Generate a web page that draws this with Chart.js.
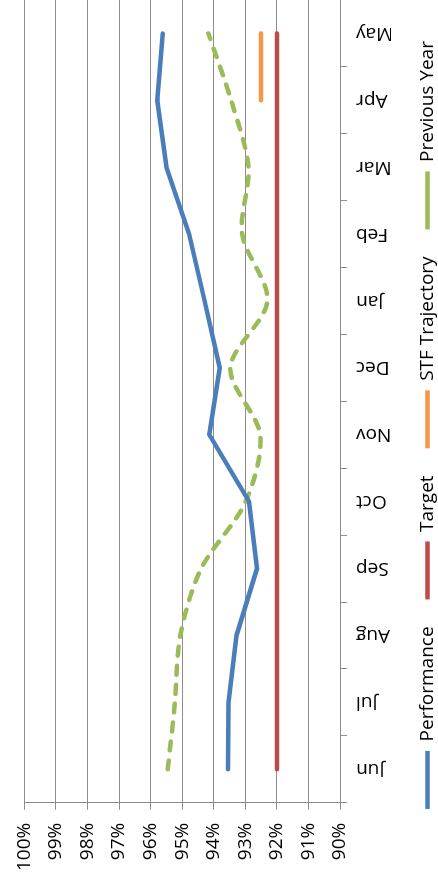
<!DOCTYPE html>
<html>
<head>
<meta charset="utf-8">
<title>Performance vs Target</title>
<script src="https://cdn.jsdelivr.net/npm/chart.js@4/dist/chart.umd.min.js"></script>
<style>
  html, body { margin: 0; padding: 0; background: #ffffff; overflow: hidden; }
  /* the chart is laid out landscape and turned a quarter-turn to stand upright */
  #stage {
    position: absolute; left: 0; top: 0;
    width: 884px; height: 438px;
    transform-origin: 0 0;
    transform: translateY(884px) rotate(-90deg);
  }
</style>
</head>
<body>
<div id="stage"><canvas id="chart" width="884" height="438"></canvas></div>
<script>
// Months of the reporting year
const months = ['Jun', 'Jul', 'Aug', 'Sep', 'Oct', 'Nov', 'Dec', 'Jan', 'Feb', 'Mar', 'Apr', 'May'];

// Monthly percentages
const performance  = [93.55, 93.53, 93.28, 92.63, 92.88, 94.14, 93.81, 94.29, 94.78, 95.50, 95.79, 95.62];
const target       = [92, 92, 92, 92, 92, 92, 92, 92, 92, 92, 92, 92];
const stfTrajectory = [null, null, null, null, null, null, null, null, null, null, 92.5, 92.5];
const previousYear = [95.46, 95.23, 95.06, 94.40, 92.99, 92.53, 93.48, 92.30, 93.10, 92.90, 93.45, 94.17];

// Value axis labels
const valueTickLabels = ['90%', '91%', '92%', '93%', '94%', '95%', '96%', '97%', '98%', '99%', '100%'];

const FONT = { family: "'Open Sans', sans-serif", size: 19 };
const GRID = '#8c8c8c';

// nudges the legend row sideways / downward after layout
const legendShift = {
  id: 'legendShift',
  afterLayout(chart, args, opts) {
    const l = chart.legend;
    if (!l) return;
    l.left += opts.dx; l.right += opts.dx;
    l.top += opts.dy; l.bottom += opts.dy;
  }
};

new Chart(document.getElementById('chart'), {
  type: 'line',
  data: {
    labels: months,
    datasets: [
      { label: 'Performance', data: performance, borderColor: '#4a7ebb', backgroundColor: '#4a7ebb',
        borderWidth: 4.5, borderCapStyle: 'round', borderJoinStyle: 'round', pointRadius: 0, tension: 0 },
      { label: 'Target', data: target, borderColor: '#be4b48', backgroundColor: '#be4b48',
        borderWidth: 4.5, borderCapStyle: 'round', pointRadius: 0 },
      { label: 'STF Trajectory', data: stfTrajectory, borderColor: '#f79646', backgroundColor: '#f79646',
        borderWidth: 4.5, borderCapStyle: 'round', pointRadius: 0 },
      { label: 'Previous Year', data: previousYear, borderColor: '#9bbb59', backgroundColor: '#9bbb59',
        borderWidth: 4.5, borderCapStyle: 'round', borderJoinStyle: 'round', borderDash: [9, 10],
        pointRadius: 0, tension: 0.3 }
    ]
  },
  options: {
    responsive: false,
    animation: false,
    devicePixelRatio: 1,
    layout: { padding: { top: 20.7, right: -2, bottom: -9, left: 0 } },
    plugins: {
      tooltip: { enabled: false },
      legendShift: { dx: 16, dy: 0 },
      legend: {
        position: 'bottom',
        labels: {
          usePointStyle: true, pointStyle: 'line', pointStyleWidth: 58,
          padding: 27, color: '#000', font: FONT
        }
      }
    },
    scales: {
      x: {
        type: 'category',
        offset: true,
        grid: { offset: true, drawOnChartArea: false, drawTicks: true, tickLength: 7, color: GRID, lineWidth: 1 },
        border: { display: true, color: GRID, width: 1 },
        ticks: { autoSkip: false, minRotation: 90, maxRotation: 90, padding: 9, color: '#000', font: FONT },
        afterFit(scale) { scale.height = 51; }
      },
      y: {
        min: 90, max: 100,
        grid: { color: GRID, lineWidth: 1, tickLength: 7 },
        border: { display: true, color: GRID, width: 1 },
        ticks: {
          stepSize: 1, padding: 13, color: '#000', font: FONT,
          callback: (v) => valueTickLabels[Math.round(v - 90)]
        },
        afterFit(scale) { scale.width = 81.3; }
      }
    }
  },
  plugins: [legendShift]
});
</script>
</body>
</html>
